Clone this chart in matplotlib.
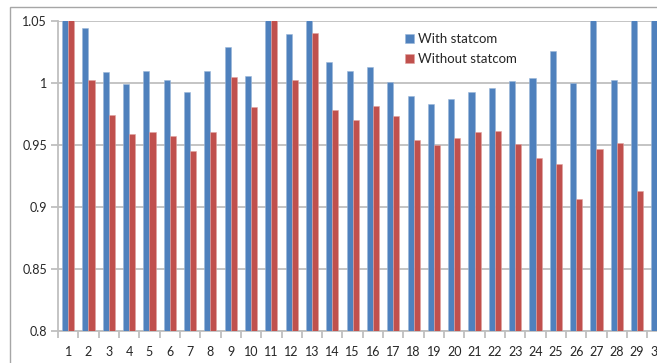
import matplotlib
matplotlib.use("Agg")
import matplotlib.pyplot as plt
from matplotlib.patches import Rectangle
import numpy as np

buses = list(range(1, 31))
with_statcom = [1.060, 1.0446, 1.0089, 0.9995, 1.0097, 1.0024, 0.9930, 1.0097, 1.0288, 1.0056,
                1.082, 1.0392, 1.071, 1.0169, 1.0097, 1.0129, 1.0008, 0.9898, 0.9828, 0.9868,
                0.9930, 0.9960, 1.0019, 1.0040, 1.0255, 1.0000, 1.060, 1.0024, 1.060, 1.060]
without_statcom = [1.060, 1.0024, 0.9739, 0.9586, 0.9602, 0.9573, 0.9452, 0.9602, 1.0048, 0.9809,
                   1.060, 1.0024, 1.0406, 0.9780, 0.9700, 0.9817, 0.9731, 0.9540, 0.9500, 0.9556,
                   0.9602, 0.9610, 0.9508, 0.9398, 0.9350, 0.9062, 0.9468, 0.9516, 0.9126, 0.900]
yticks = [0.8, 0.85, 0.9, 0.95, 1.0, 1.05]
ytick_labels = ["0.8", "0.85", "0.9", "0.95", "1", "1.05"]

plt.rcParams['font.family'] = ['Lato', 'DejaVu Sans']

W, H = 657, 363
fig = plt.figure(figsize=(W / 100, H / 100), dpi=100)

# chart area border (cropped on right/bottom)
fig.patches.append(Rectangle((10 / W, -0.1), 1.2, (H - 7) / H + 0.1, transform=fig.transFigure,
                             fill=False, edgecolor="#A6A6A6", linewidth=1.0, zorder=0))

left, right, bottom, top = 58, 667.6, 331, 21
ax = fig.add_axes([left / W, (H - bottom) / H, (right - left) / W, (bottom - top) / H])

x = np.array(buses)
w = 0.3
blue = "#4F81BD"
red = "#C0504D"
ax.bar(x - w / 2, with_statcom, width=w, color=blue, edgecolor="#9BB7D9", linewidth=0.4,
       label="With statcom", zorder=3, bottom=0)
ax.bar(x + w / 2, without_statcom, width=w, color=red, edgecolor="#E0A3A1", linewidth=0.4,
       label="Without statcom", zorder=3, bottom=0)

ax.set_ylim(0.8, 1.05)
ax.set_xlim(0.5, 30.5)
ax.set_yticks(yticks)
ax.set_yticklabels(ytick_labels)
ax.set_xticks(x)
ax.set_xticklabels([str(b) for b in buses])
ax.set_xticks(np.arange(0.5, 31, 1), minor=True)

ax.yaxis.grid(True, color="#BFBFBF", linewidth=1.3, zorder=0)
ax.set_axisbelow(True)
for s in ["top", "right"]:
    ax.spines[s].set_visible(False)
ax.spines["left"].set_color("#BFBFBF")
ax.spines["left"].set_linewidth(1.3)
ax.spines["bottom"].set_color("#BFBFBF")
ax.spines["bottom"].set_linewidth(1.3)

ax.tick_params(axis="y", length=5, width=1.3, color="#BFBFBF", labelsize=9, pad=3,
               labelcolor="#262626")
ax.tick_params(axis="x", which="major", length=0, labelsize=9, pad=11, labelcolor="#262626")
ax.tick_params(axis="x", which="minor", length=5, width=1.3, color="#BFBFBF")

ax.legend(loc="upper left", bbox_to_anchor=(0.55, 1.0), frameon=False, fontsize=9.5,
          handlelength=0.7, handleheight=0.7, handletextpad=0.3, labelspacing=0.65,
          labelcolor="#262626")

fig.savefig("out.png", dpi=100)
